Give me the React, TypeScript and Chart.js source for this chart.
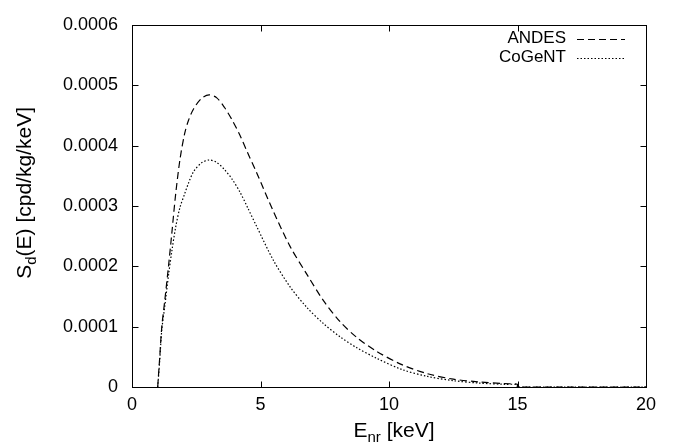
import React, { useEffect, useRef } from "react";
import { Chart, registerables } from "chart.js";

Chart.register(...registerables);

// ---- data ----
const energyKeV = [
  1.0, 1.08, 1.16, 1.28, 1.42, 1.55, 1.7, 1.87, 2.05, 2.2, 2.4, 2.7, 3.0, 3.3, 3.6, 3.9,
  4.2, 4.5, 4.85, 5.5, 6.15, 6.8, 7.45, 8.1, 8.75, 9.5, 10.5, 11.5, 12.5, 13.5, 14.5, 15.0,
  15.0, 20.0,
];
const andesRate = [
  0, 0.5e-4, 1.0e-4, 1.45e-4, 2.0e-4, 2.55e-4, 3.2e-4, 3.78e-4, 4.2e-4, 4.42e-4, 4.61e-4,
  4.78e-4, 4.84e-4, 4.79e-4, 4.63e-4, 4.42e-4, 4.17e-4, 3.88e-4, 3.55e-4, 2.91e-4,
  2.33e-4, 1.87e-4, 1.43e-4, 1.08e-4, 0.82e-4, 0.595e-4, 0.37e-4, 0.22e-4, 0.13e-4,
  0.085e-4, 0.055e-4, 0.045e-4, 0, 0,
];
const cogentRate = [
  0, 0.45e-4, 0.95e-4, 1.35e-4, 1.85e-4, 2.25e-4, 2.65e-4, 2.98e-4, 3.2e-4, 3.38e-4,
  3.57e-4, 3.71e-4, 3.76e-4, 3.72e-4, 3.6e-4, 3.44e-4, 3.23e-4, 2.97e-4, 2.66e-4, 2.1e-4,
  1.66e-4, 1.32e-4, 1.05e-4, 0.83e-4, 0.65e-4, 0.48e-4, 0.29e-4, 0.175e-4, 0.105e-4,
  0.065e-4, 0.045e-4, 0.04e-4, 0, 0,
];
const seriesLabels = ["ANDES", "CoGeNT"];
const xTickValues = [0, 5, 10, 15, 20];
const yTickValues = [0, 0.0001, 0.0002, 0.0003, 0.0004, 0.0005, 0.0006];
const xTitleParts = ["E", "nr", " [keV]"];
const yTitleParts = ["S", "d", "(E) [cpd/kg/keV]"];

const FONT = '"Liberation Sans", Arial, Helvetica, sans-serif';
const DASHES = [
  [7, 4],
  [1.5, 2],
];

function drawTitle(ctx: CanvasRenderingContext2D, parts: string[], size: number) {
  const subSize = Math.round(size * 0.7);
  ctx.font = `${size}px ${FONT}`;
  const w0 = ctx.measureText(parts[0]).width;
  const w2 = ctx.measureText(parts[2]).width;
  ctx.font = `${subSize}px ${FONT}`;
  const w1 = ctx.measureText(parts[1]).width;
  const total = w0 + w1 + w2;
  let x = -total / 2;
  ctx.textAlign = "left";
  ctx.textBaseline = "alphabetic";
  ctx.font = `${size}px ${FONT}`;
  ctx.fillText(parts[0], x, 0);
  x += w0;
  ctx.font = `${subSize}px ${FONT}`;
  ctx.fillText(parts[1], x, 5);
  x += w1;
  ctx.font = `${size}px ${FONT}`;
  ctx.fillText(parts[2], x, 0);
}

const framePlugin = {
  id: "gnuplotFrame",
  afterDraw(chart: any) {
    const { ctx, chartArea: a, scales } = chart;
    const xs = scales.x;
    const ys = scales.y;
    ctx.save();
    ctx.strokeStyle = "#000";
    ctx.fillStyle = "#000";
    ctx.lineWidth = 1;
    ctx.setLineDash([]);
    const L = Math.round(a.left) + 0.5;
    const R = Math.round(a.right) + 0.5;
    const T = Math.round(a.top) + 0.5;
    const B = Math.round(a.bottom) + 0.5;
    ctx.strokeRect(L, T, R - L, B - T);
    const tl = 6;
    ctx.beginPath();
    for (const v of xTickValues) {
      const px = Math.round(xs.getPixelForValue(v)) + 0.5;
      ctx.moveTo(px, B);
      ctx.lineTo(px, B - tl);
      ctx.moveTo(px, T);
      ctx.lineTo(px, T + tl);
    }
    for (const v of yTickValues) {
      const py = Math.round(ys.getPixelForValue(v)) + 0.5;
      ctx.moveTo(L, py);
      ctx.lineTo(L + tl, py);
      ctx.moveTo(R, py);
      ctx.lineTo(R - tl, py);
    }
    ctx.stroke();

    // legend
    ctx.font = `17px ${FONT}`;
    ctx.textAlign = "right";
    ctx.textBaseline = "middle";
    seriesLabels.forEach((lab, i) => {
      const y = a.top + 14 + i * 19;
      ctx.fillText(lab, a.right - 80, y);
      ctx.beginPath();
      ctx.lineWidth = 1.2;
      ctx.setLineDash(DASHES[i]);
      ctx.moveTo(a.right - 69, Math.round(y) + 0.5);
      ctx.lineTo(a.right - 21, Math.round(y) + 0.5);
      ctx.stroke();
    });
    ctx.setLineDash([]);

    // x title
    ctx.save();
    ctx.translate((a.left + a.right) / 2 + 5, a.bottom + 49.5);
    drawTitle(ctx, xTitleParts, 21);
    ctx.restore();

    // y title
    ctx.save();
    ctx.translate(31, (a.top + a.bottom) / 2 - 13);
    ctx.rotate(-Math.PI / 2);
    drawTitle(ctx, yTitleParts, 21);
    ctx.restore();

    ctx.restore();
  },
};

export default function App() {
  const ref = useRef<HTMLCanvasElement | null>(null);
  useEffect(() => {
    document.body.style.margin = "0";
    const canvas = ref.current;
    if (!canvas) return;
    const mk = (vals: number[]) => energyKeV.map((e, i) => ({ x: e, y: vals[i] }));
    const chart = new Chart(canvas, {
      type: "scatter",
      data: {
        datasets: [
          {
            label: seriesLabels[0],
            data: mk(andesRate),
            showLine: true,
            borderColor: "#000",
            borderWidth: 1.2,
            borderDash: DASHES[0],
            pointRadius: 0,
            tension: 0.3,
          },
          {
            label: seriesLabels[1],
            data: mk(cogentRate),
            showLine: true,
            borderColor: "#000",
            borderWidth: 1.2,
            borderDash: DASHES[1],
            pointRadius: 0,
            tension: 0.3,
          },
        ],
      },
      options: {
        responsive: false,
        animation: false,
        devicePixelRatio: 1,
        layout: { padding: { top: 17, right: 39, left: 0, bottom: 0 } },
        plugins: { legend: { display: false }, tooltip: { enabled: false } },
        scales: {
          x: {
            type: "linear",
            min: 0,
            max: 20,
            afterFit: (s: any) => {
              s.height = 56;
            },
            afterBuildTicks: (s: any) => {
              s.ticks = xTickValues.map((v) => ({ value: v }));
            },
            ticks: {
              color: "#000",
              font: { family: FONT, size: 18 },
              padding: 7,
              maxRotation: 0,
              callback: (v: any) => String(v),
            },
            grid: { display: false, drawTicks: false },
            border: { display: false },
          },
          y: {
            type: "linear",
            min: 0,
            max: 0.0006,
            afterFit: (s: any) => {
              s.width = 132;
            },
            afterBuildTicks: (s: any) => {
              s.ticks = yTickValues.map((v) => ({ value: v }));
            },
            ticks: {
              color: "#000",
              font: { family: FONT, size: 18 },
              padding: 14,
              callback: (v: any) => (Number(v) === 0 ? "0" : Number(v).toFixed(4)),
            },
            grid: { display: false, drawTicks: false },
            border: { display: false },
          },
        },
      },
      plugins: [framePlugin],
    });
    return () => chart.destroy();
  }, []);
  return (
    <canvas ref={ref} width={685} height={443} style={{ display: "block", width: 685, height: 443 }} />
  );
}
